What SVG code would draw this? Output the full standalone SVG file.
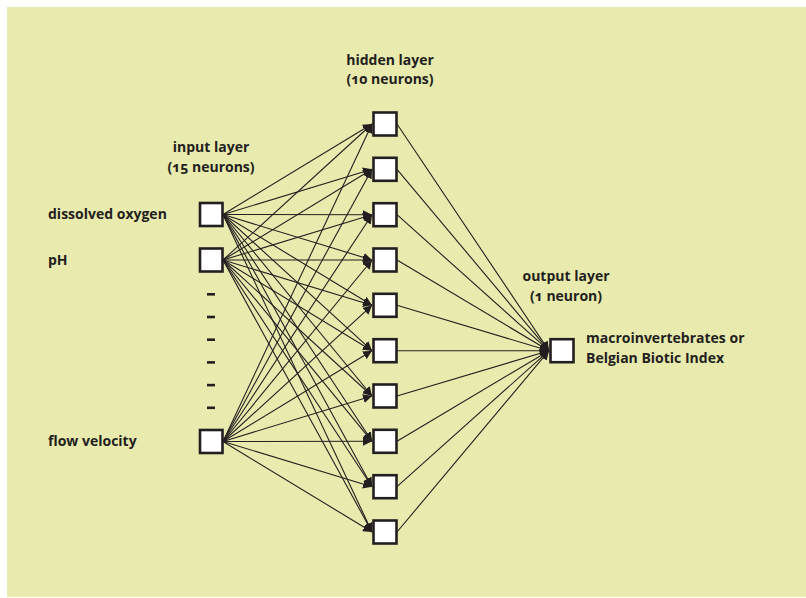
<svg xmlns="http://www.w3.org/2000/svg" width="806" height="598" viewBox="0 0 806 598">
  <defs>
    <style>
      .bg { fill: #e9eaae; }
      .node { fill: #ffffff; stroke: #231f20; stroke-width: 2.6; }
      .lbl { font-family: "Open Sans", "Liberation Sans", sans-serif; font-weight: bold; font-size: 14px; fill: #231f20; font-variant-numeric: oldstyle-nums; }
      .mid { text-anchor: middle; }
      .edge { stroke: #231f20; stroke-width: 1.1; fill: none; marker-end: url(#arrow); }
      .dash { fill: #231f20; }
    </style>
    <marker id="arrow" markerUnits="userSpaceOnUse" markerWidth="10" markerHeight="9" refX="9" refY="4.5" orient="auto">
      <path d="M0,0 L9,4.5 L0,9 z" fill="#231f20"/>
    </marker>
  </defs>

  <rect class="bg" x="7" y="7" width="799" height="590"/>

  <!-- layer captions -->
  <g id="captions">
    <text class="lbl mid" x="211" y="152">input layer</text>
    <text class="lbl mid" x="211" y="172">(15 neurons)</text>
    <text class="lbl mid" x="390" y="65">hidden layer</text>
    <text class="lbl mid" x="390" y="84">(10 neurons)</text>
    <text class="lbl mid" x="566" y="281">output layer</text>
    <text class="lbl mid" x="566" y="301">(1 neuron)</text>
  </g>

  <!-- connectors: input to hidden, hidden to output -->
  <g id="connectors">
    <line class="edge" x1="223" y1="214.5" x2="372" y2="124"/>
    <line class="edge" x1="223" y1="214.5" x2="372" y2="169.3"/>
    <line class="edge" x1="223" y1="214.5" x2="372" y2="214.7"/>
    <line class="edge" x1="223" y1="214.5" x2="372" y2="260"/>
    <line class="edge" x1="223" y1="214.5" x2="372" y2="305.3"/>
    <line class="edge" x1="223" y1="214.5" x2="372" y2="350.7"/>
    <line class="edge" x1="223" y1="214.5" x2="372" y2="396"/>
    <line class="edge" x1="223" y1="214.5" x2="372" y2="441.3"/>
    <line class="edge" x1="223" y1="214.5" x2="372" y2="486.7"/>
    <line class="edge" x1="223" y1="214.5" x2="372" y2="532"/>

    <line class="edge" x1="223" y1="260" x2="372" y2="124"/>
    <line class="edge" x1="223" y1="260" x2="372" y2="169.3"/>
    <line class="edge" x1="223" y1="260" x2="372" y2="214.7"/>
    <line class="edge" x1="223" y1="260" x2="372" y2="260"/>
    <line class="edge" x1="223" y1="260" x2="372" y2="305.3"/>
    <line class="edge" x1="223" y1="260" x2="372" y2="350.7"/>
    <line class="edge" x1="223" y1="260" x2="372" y2="396"/>
    <line class="edge" x1="223" y1="260" x2="372" y2="441.3"/>
    <line class="edge" x1="223" y1="260" x2="372" y2="486.7"/>
    <line class="edge" x1="223" y1="260" x2="372" y2="532"/>

    <line class="edge" x1="223" y1="441.5" x2="372" y2="124"/>
    <line class="edge" x1="223" y1="441.5" x2="372" y2="169.3"/>
    <line class="edge" x1="223" y1="441.5" x2="372" y2="214.7"/>
    <line class="edge" x1="223" y1="441.5" x2="372" y2="260"/>
    <line class="edge" x1="223" y1="441.5" x2="372" y2="305.3"/>
    <line class="edge" x1="223" y1="441.5" x2="372" y2="350.7"/>
    <line class="edge" x1="223" y1="441.5" x2="372" y2="396"/>
    <line class="edge" x1="223" y1="441.5" x2="372" y2="441.3"/>
    <line class="edge" x1="223" y1="441.5" x2="372" y2="486.7"/>
    <line class="edge" x1="223" y1="441.5" x2="372" y2="532"/>

    <line class="edge" x1="397" y1="124" x2="549" y2="350.7"/>
    <line class="edge" x1="397" y1="169.3" x2="549" y2="350.7"/>
    <line class="edge" x1="397" y1="214.7" x2="549" y2="350.7"/>
    <line class="edge" x1="397" y1="260" x2="549" y2="350.7"/>
    <line class="edge" x1="397" y1="305.3" x2="549" y2="350.7"/>
    <line class="edge" x1="397" y1="350.7" x2="549" y2="350.7"/>
    <line class="edge" x1="397" y1="396" x2="549" y2="350.7"/>
    <line class="edge" x1="397" y1="441.3" x2="549" y2="350.7"/>
    <line class="edge" x1="397" y1="486.7" x2="549" y2="350.7"/>
    <line class="edge" x1="397" y1="532" x2="549" y2="350.7"/>
  </g>

  <!-- input layer -->
  <g id="in-oxygen">
    <rect class="node" x="200" y="203" width="22.5" height="23"/>
    <text class="lbl" x="48" y="219">dissolved oxygen</text>
  </g>
  <g id="in-ph">
    <rect class="node" x="200" y="248.5" width="22.5" height="23"/>
    <text class="lbl" x="48" y="265">pH</text>
  </g>
  <g id="in-ellipsis">
    <rect class="dash" x="207" y="293" width="8" height="2.6"/>
    <rect class="dash" x="207" y="315.7" width="8" height="2.6"/>
    <rect class="dash" x="207" y="338.4" width="8" height="2.6"/>
    <rect class="dash" x="207" y="361.1" width="8" height="2.6"/>
    <rect class="dash" x="207" y="383.8" width="8" height="2.6"/>
    <rect class="dash" x="207" y="406.5" width="8" height="2.6"/>
  </g>
  <g id="in-flow">
    <rect class="node" x="200" y="430" width="22.5" height="23"/>
    <text class="lbl" x="48" y="446">flow velocity</text>
  </g>

  <!-- hidden layer -->
  <g id="h1"><rect class="node" x="373.5" y="112.5" width="23" height="23"/></g>
  <g id="h2"><rect class="node" x="373.5" y="157.8" width="23" height="23"/></g>
  <g id="h3"><rect class="node" x="373.5" y="203.2" width="23" height="23"/></g>
  <g id="h4"><rect class="node" x="373.5" y="248.5" width="23" height="23"/></g>
  <g id="h5"><rect class="node" x="373.5" y="293.8" width="23" height="23"/></g>
  <g id="h6"><rect class="node" x="373.5" y="339.2" width="23" height="23"/></g>
  <g id="h7"><rect class="node" x="373.5" y="384.5" width="23" height="23"/></g>
  <g id="h8"><rect class="node" x="373.5" y="429.8" width="23" height="23"/></g>
  <g id="h9"><rect class="node" x="373.5" y="475.2" width="23" height="23"/></g>
  <g id="h10"><rect class="node" x="373.5" y="520.5" width="23" height="23"/></g>

  <!-- output layer -->
  <g id="out">
    <rect class="node" x="550.5" y="339.2" width="23" height="23"/>
    <text class="lbl" x="586" y="343">macroinvertebrates or</text>
    <text class="lbl" x="586" y="363">Belgian Biotic Index</text>
  </g>
</svg>
